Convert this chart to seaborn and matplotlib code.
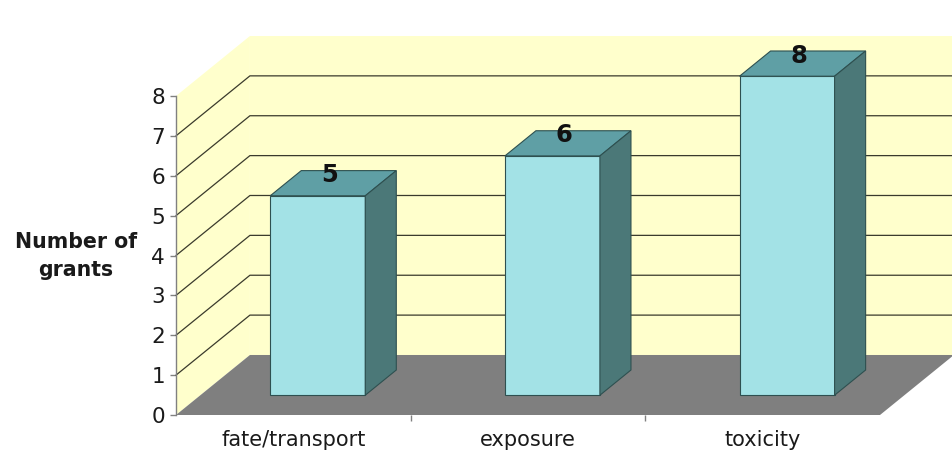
import pandas as pd
import seaborn as sns
import matplotlib.pyplot as plt
from matplotlib.patches import Polygon

# data
categories = ['fate/transport', 'exposure', 'toxicity']
grants = [5, 6, 8]
y_ticks = [0, 1, 2, 3, 4, 5, 6, 7, 8]

wall_color = '#FFFFCC'
floor_color = '#7F7F7F'
front_color = '#A3E2E6'
top_color = '#5F9FA5'
side_color = '#4B7878'
edge_color = '#2E5050'
grid_color = '#3A3A2C'

# fake 3d depth, in data units (x: category slots, y: grants)
DX, DY = 0.315, 1.505
F1, F2 = 0.33, 0.75   # bars sit between these fractions of the depth
BAR_W = 0.405

sns.set_theme(style='white')
plt.rcParams['font.family'] = ['DejaVu Sans']

fig = plt.figure(figsize=(9.53, 4.55), dpi=100)
ax = fig.add_axes([176 / 953, 40 / 455, 704 / 953, 319 / 455])
ax.set_facecolor('none')

df = pd.DataFrame({'category': categories, 'grants': grants})
sns.barplot(data=df, x='category', y='grants', width=BAR_W, color=front_color,
            saturation=1, edgecolor=edge_color, linewidth=0.8, ax=ax, zorder=5)
bars = list(ax.patches)

x0, x1 = -0.5, len(categories) - 0.5
ymax = y_ticks[-1]
ax.set_xlim(x0, x1)
ax.set_ylim(0, ymax)

# walls and floor
back = Polygon([(x0 + DX, DY), (x1 + DX, DY), (x1 + DX, ymax + DY), (x0 + DX, ymax + DY)],
               fc=wall_color, ec='none', zorder=0, clip_on=False)
left = Polygon([(x0, 0), (x0 + DX, DY), (x0 + DX, ymax + DY), (x0, ymax)],
               fc=wall_color, ec='none', zorder=0, clip_on=False)
floor = Polygon([(x0, 0), (x1, 0), (x1 + DX, DY), (x0 + DX, DY)],
                fc=floor_color, ec='none', zorder=1, clip_on=False)
for p in (back, left, floor):
    ax.add_patch(p)

# gridlines on the walls
for k in y_ticks[1:-1]:
    ax.plot([x0, x0 + DX, x1 + DX], [k, k + DY, k + DY], color=grid_color,
            lw=0.9, clip_on=False, zorder=2)

# turn the flat bars into boxes
ddx, ddy = (F2 - F1) * DX, (F2 - F1) * DY
for p, v in zip(bars, grants):
    p.set_x(p.get_x() + F1 * DX)
    p.set_y(F1 * DY)
    p.set_clip_on(False)
    bx, by, w, h = p.get_x(), p.get_y(), p.get_width(), p.get_height()
    ax.add_patch(Polygon([(bx, by + h), (bx + w, by + h), (bx + w + ddx, by + h + ddy),
                          (bx + ddx, by + h + ddy)],
                         fc=top_color, ec=edge_color, lw=0.8, zorder=5, clip_on=False))
    ax.add_patch(Polygon([(bx + w, by), (bx + w + ddx, by + ddy), (bx + w + ddx, by + h + ddy),
                          (bx + w, by + h)],
                         fc=side_color, ec=edge_color, lw=0.8, zorder=5, clip_on=False))
    ax.text(bx + w / 2 + ddx / 2 - 0.015, by + h + ddy / 2 + 0.2, str(v), ha='center',
            va='center', fontsize=17.5, fontweight='bold', color='#111111', zorder=6,
            clip_on=False)

sns.despine(ax=ax, left=False, bottom=True)
ax.spines['left'].set_color('#808080')
ax.spines['left'].set_linewidth(1)
ax.set_yticks(y_ticks)
ax.tick_params(axis='y', left=True, length=4, width=1, color='#808080',
               labelsize=15.5, pad=4, labelcolor='#1a1a1a')
ax.set_xticks(range(len(categories)), categories)
ax.tick_params(axis='x', which='major', bottom=False, pad=5, labelsize=15,
               labelcolor='#1a1a1a')
ax.set_xticks([0.5, 1.5], minor=True)
ax.tick_params(axis='x', which='minor', bottom=True, length=4, width=1, color='#808080')

ax.set_xlabel('')
ax.set_ylabel('Number of\ngrants', rotation=0, fontsize=14.8, fontweight='bold',
              color='#1a1a1a', ha='center', va='center', linespacing=1.5)
ax.yaxis.set_label_coords(-0.142, 0.498)

fig.savefig('out.png', dpi=100)
